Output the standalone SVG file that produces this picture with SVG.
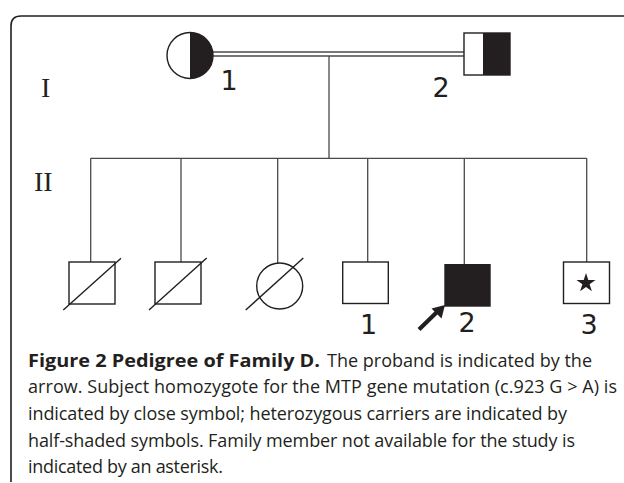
<svg xmlns="http://www.w3.org/2000/svg" width="624" height="483" viewBox="0 0 624 483">
<defs>
<style>
.frame{fill:none;stroke:#231f20;stroke-width:1.6}
.conn{fill:none;stroke:#4a4a4a;stroke-width:1.3}
.sym{fill:#fff;stroke:#231f20;stroke-width:1.4}
.blk{fill:#231f20;stroke:none}
.diag{stroke:#231f20;stroke-width:1.4}
.gen{font-family:"Liberation Serif",serif;font-size:28px;fill:#231f20}
.num{font-family:"DejaVu Sans",sans-serif;font-size:27px;fill:#231f20;text-anchor:middle}
.cap{font-family:"Open Sans",sans-serif;font-size:18px;fill:#231f20}
.b{font-weight:bold}
</style>
</defs>
<rect width="624" height="483" fill="#fff"/>
<path class="frame" d="M11,482 V26 Q11,16 21,16 H624"/>
<text class="gen" x="41" y="96.7">I</text>
<text class="gen" x="34" y="190.7">II</text>
<g id="connectors">
<line class="conn" x1="213" y1="52" x2="464" y2="52"/>
<line class="conn" x1="213" y1="56" x2="464" y2="56"/>
<line class="conn" x1="329" y1="56" x2="329" y2="158.3"/>
<line class="conn" x1="90.7" y1="158.3" x2="586.7" y2="158.3"/>
<line class="conn" x1="90.7" y1="158.3" x2="90.7" y2="262"/>
<line class="conn" x1="181" y1="158.3" x2="181" y2="262"/>
<line class="conn" x1="277.7" y1="158.3" x2="277.7" y2="263"/>
<line class="conn" x1="367.7" y1="158.3" x2="367.7" y2="262"/>
<line class="conn" x1="464.3" y1="158.3" x2="464.3" y2="264"/>
<line class="conn" x1="586.7" y1="158.3" x2="586.7" y2="262"/>
</g>
<g id="I-1">
<circle class="sym" cx="190" cy="55.5" r="23"/>
<path class="blk" d="M190,32.5 A23,23 0 0,1 190,78.5 Z"/>
<text class="num" x="229" y="90">1</text>
</g>
<g id="I-2">
<rect class="sym" x="464" y="33" width="46" height="42"/>
<rect class="blk" x="483" y="33" width="27" height="42"/>
<text class="num" x="441" y="96.7">2</text>
</g>
<g id="II-a">
<rect class="sym" x="69" y="262" width="46" height="42"/>
<line class="diag" x1="63.3" y1="310" x2="121" y2="258.3"/>
</g>
<g id="II-b">
<rect class="sym" x="155" y="262" width="46" height="42"/>
<line class="diag" x1="149" y1="310" x2="206.7" y2="258"/>
</g>
<g id="II-c">
<circle class="sym" cx="279.7" cy="286" r="23"/>
<line class="diag" x1="245.7" y1="310" x2="303.3" y2="258"/>
</g>
<g id="II-1">
<rect class="sym" x="342.7" y="262" width="45.6" height="41.5"/>
<text class="num" x="368.5" y="334">1</text>
</g>
<g id="II-2">
<rect class="blk" x="444.3" y="264" width="46.4" height="42.7"/>
<text class="num" x="467" y="331.7">2</text>
<line stroke="#231f20" stroke-width="4.2" x1="419" y1="329.5" x2="437" y2="312"/>
<polygon class="blk" points="445,305 441.5,318.5 431.5,308.5"/>
</g>
<g id="II-3">
<rect class="sym" x="563.5" y="262" width="46" height="41.5"/>
<polygon class="blk" points="586,273 588.3,280 595.5,280 589.6,284.3 591.9,291.3 586,287 580.1,291.3 582.4,284.3 576.5,280 583.7,280"/>
<text class="num" x="589" y="334">3</text>
</g>
<g id="caption">
<text class="cap b" x="28" y="366.7" textLength="292" lengthAdjust="spacingAndGlyphs">Figure 2 Pedigree of Family D.</text>
<text class="cap" x="327" y="366.7" textLength="265" lengthAdjust="spacing">The proband is indicated by the</text>
<text class="cap" x="28" y="393.3" textLength="589" lengthAdjust="spacing">arrow. Subject homozygote for the MTP gene mutation (c.923 G &gt; A) is</text>
<text class="cap" x="28" y="419.9" textLength="539" lengthAdjust="spacing">indicated by close symbol; heterozygous carriers are indicated by</text>
<text class="cap" x="28" y="446.5" textLength="547" lengthAdjust="spacing">half-shaded symbols. Family member not available for the study is</text>
<text class="cap" x="28" y="473.1" textLength="195" lengthAdjust="spacing">indicated by an asterisk.</text>
</g>
</svg>
